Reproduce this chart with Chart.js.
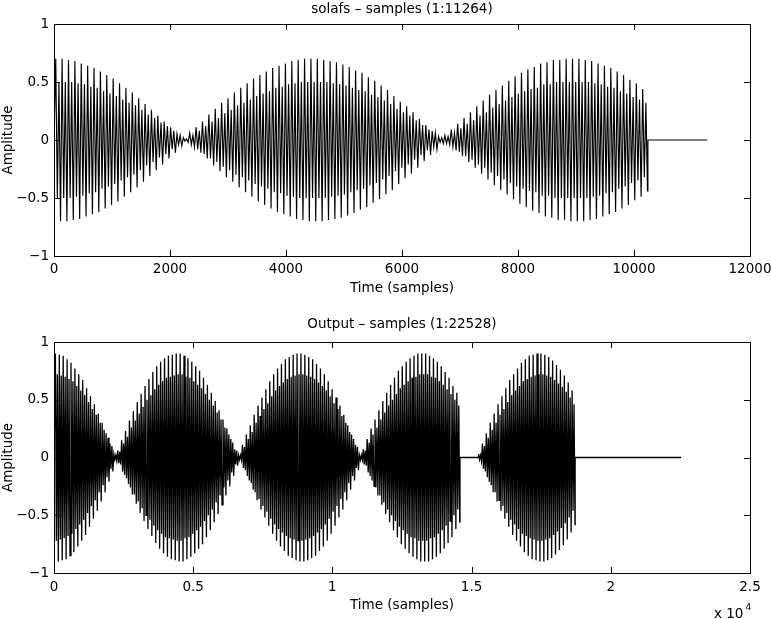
<!DOCTYPE html>
<html><head><meta charset="utf-8">
<script src="https://cdn.jsdelivr.net/npm/chart.js@4.4.1/dist/chart.umd.min.js"></script>
<style>
html,body{margin:0;padding:0;background:#fff;}
#wrap{position:relative;width:771px;height:619px;background:#fff;}
#c1{position:absolute;left:0;top:0;}
#c2{position:absolute;left:0;top:310px;}
</style></head><body>
<div id="wrap"><canvas id="c1" width="771" height="310"></canvas><canvas id="c2" width="771" height="309"></canvas></div>
<script>
// ---------- tick labels ----------
const yTickLabels = ['\u22121', '\u22120.5', '0', '0.5', '1'];
const topXTickLabels = ['0', '2000', '4000', '6000', '8000', '10000', '12000'];
const outXTickLabels = ['0', '0.5', '1', '1.5', '2', '2.5'];

// ---------- top signal (solafs input), one entry per pitch cycle ----------
const topCycleLength = 110;
const topCycleStarts = [30,140,250,360,470,580,690,800,910,1020,
1130,1240,1350,1460,1570,1680,1790,1900,2010,2120,
2230,2340,2450,2560,2670,2780,2890,3000,3110,3220,
3330,3440,3550,3660,3770,3880,3990,4100,4210,4320,
4430,4540,4650,4760,4870,4980,5090,5200,5310,5420,
5530,5640,5750,5860,5970,6080,6190,6300,6410,6520,
6630,6740,6850,6960,7070,7180,7290,7400,7510,7620,
7730,7840,7950,8060,8170,8280,8390,8500,8610,8720,
8830,8940,9050,9160,9270,9380,9490,9600,9710,9820,
9930,10040,10150];
const topMainPeaks = [0.70,0.70,0.69,0.68,0.66,0.64,0.62,0.59,0.56,0.53,
0.49,0.45,0.41,0.36,0.31,0.26,0.21,0.16,0.11,0.05,
0.02,0.06,0.11,0.16,0.22,0.27,0.32,0.36,0.41,0.45,
0.49,0.53,0.56,0.59,0.62,0.64,0.66,0.68,0.69,0.70,
0.70,0.70,0.69,0.68,0.67,0.65,0.63,0.60,0.58,0.54,
0.51,0.47,0.43,0.38,0.33,0.29,0.24,0.18,0.13,0.08,
0.03,0.04,0.09,0.14,0.19,0.24,0.29,0.34,0.39,0.43,
0.47,0.51,0.55,0.58,0.61,0.63,0.66,0.67,0.69,0.69,
0.70,0.70,0.70,0.69,0.68,0.66,0.64,0.62,0.59,0.56,
0.52,0.49,0.44];
const topSecondPeaks = [0.50,0.50,0.50,0.49,0.48,0.46,0.45,0.42,0.40,0.38,
0.35,0.32,0.30,0.26,0.22,0.19,0.15,0.12,0.08,0.04,
0.01,0.04,0.08,0.12,0.16,0.19,0.23,0.26,0.30,0.32,
0.35,0.38,0.40,0.42,0.45,0.46,0.48,0.49,0.50,0.50,
0.50,0.50,0.50,0.49,0.48,0.47,0.45,0.43,0.42,0.39,
0.37,0.34,0.31,0.27,0.24,0.21,0.17,0.13,0.09,0.06,
0.02,0.03,0.06,0.10,0.14,0.17,0.21,0.24,0.28,0.31,
0.34,0.37,0.40,0.42,0.44,0.45,0.48,0.48,0.50,0.50,
0.50,0.50,0.50,0.50,0.49,0.48,0.46,0.45,0.42,0.40,
0.37,0.35,0.32];
const topLeadX = [1];
const topSilenceX = [10240, 11264];

// ---------- bottom signal (output), one entry per pitch cycle ----------
const outCycleLength = 140;
const outStartsA = [50,190,330,470,610,750,890,1030,1170,1310,
1450,1590,1730,1870,2010,2150,2290,2430,2570,2710,
2850,2990,3130,3270,3410,3550,3690,3830,3970,4110,
4250,4390,4530,4670,4810,4950,5090,5230,5370,5510,
5650,5790,5930,6070,6210,6350,6490,6630,6770,6910,
7050,7190,7330,7470,7610,7750,7890,8030,8170,8310,
8450,8590,8730,8870,9010,9150,9290,9430,9570,9710,
9850,9990,10130,10270,10410,10550,10690,10830,10970,11110,
11250,11390,11530,11670,11810,11950,12090,12230,12370,12510,
12650,12790,12930,13070,13210,13350,13490,13630,13770,13910,
14050,14190,14330,14470];
const outMainA = [0.90,0.89,0.88,0.85,0.82,0.77,0.72,0.67,0.60,0.53,
0.46,0.38,0.30,0.21,0.12,0.03,0.06,0.15,0.23,0.32,
0.40,0.48,0.55,0.62,0.68,0.74,0.79,0.83,0.86,0.88,
0.89,0.90,0.90,0.88,0.86,0.83,0.79,0.75,0.69,0.63,
0.56,0.49,0.41,0.33,0.25,0.16,0.07,0.02,0.11,0.20,
0.28,0.37,0.45,0.52,0.59,0.66,0.72,0.77,0.81,0.85,
0.87,0.89,0.90,0.90,0.89,0.87,0.85,0.81,0.77,0.72,
0.66,0.59,0.52,0.45,0.37,0.28,0.20,0.11,0.02,0.07,
0.16,0.25,0.33,0.41,0.49,0.56,0.63,0.69,0.75,0.79,
0.83,0.86,0.88,0.90,0.90,0.90,0.88,0.86,0.83,0.79,
0.74,0.69,0.62,0.56];
const outSecondA = [0.72,0.71,0.70,0.68,0.66,0.62,0.58,0.54,0.48,0.42,
0.37,0.30,0.24,0.17,0.10,0.02,0.05,0.12,0.18,0.26,
0.32,0.38,0.44,0.50,0.54,0.59,0.63,0.66,0.69,0.70,
0.71,0.72,0.72,0.70,0.69,0.66,0.63,0.60,0.55,0.50,
0.45,0.39,0.33,0.26,0.20,0.13,0.06,0.02,0.09,0.16,
0.22,0.30,0.36,0.42,0.47,0.53,0.58,0.62,0.65,0.68,
0.70,0.71,0.72,0.72,0.71,0.70,0.68,0.65,0.62,0.58,
0.53,0.47,0.42,0.36,0.30,0.22,0.16,0.09,0.02,0.06,
0.13,0.20,0.26,0.33,0.39,0.45,0.50,0.55,0.60,0.63,
0.66,0.69,0.70,0.72,0.72,0.72,0.70,0.69,0.66,0.63,
0.59,0.55,0.50,0.45];
const outStartsB = [15250,15390,15530,15670,15810,15950,16090,16230,16370,16510,
16650,16790,16930,17070,17210,17350,17490,17630,17770,17910,
18050,18190,18330,18470,18610];
const outMainB = [0.03,0.12,0.21,0.30,0.38,0.46,0.53,0.60,0.67,0.72,
0.77,0.82,0.85,0.88,0.89,0.90,0.90,0.89,0.87,0.84,
0.80,0.76,0.71,0.65,0.58];
const outSecondB = [0.02,0.10,0.17,0.24,0.30,0.37,0.42,0.48,0.54,0.58,
0.62,0.66,0.68,0.70,0.71,0.72,0.72,0.71,0.70,0.67,
0.64,0.61,0.57,0.52,0.46];
const outLeadX = [1];
const outGapX = [14583, 15240];
const outSilenceX = [18720, 22528];

// ---------- build line points from the arrays ----------
function cyclePoints(starts, main, second, cycle) {
  const q = cycle / 4, pts = [];
  for (let i = 0; i < starts.length; i++) {
    const s = starts[i];
    pts.push({x: s, y: main[i]}, {x: s + q, y: -second[i]},
             {x: s + 2 * q, y: second[i]}, {x: s + 3 * q, y: -main[i]});
  }
  return pts;
}
const zeros = xs => xs.map(x => ({x, y: 0}));

const topData = [...zeros(topLeadX),
  ...cyclePoints(topCycleStarts, topMainPeaks, topSecondPeaks, topCycleLength),
  ...zeros(topSilenceX)];
const outData = [...zeros(outLeadX),
  ...cyclePoints(outStartsA, outMainA, outSecondA, outCycleLength),
  ...zeros(outGapX),
  ...cyclePoints(outStartsB, outMainB, outSecondB, outCycleLength),
  ...zeros(outSilenceX)];

// ---------- drawing ----------
const FONT = '"DejaVu Sans", "Liberation Sans", Arial, sans-serif';
const FSIZE = 13.5;
Chart.defaults.font.family = FONT;
Chart.defaults.font.size = FSIZE;
Chart.defaults.color = '#000';

const framePlugin = {
  id: 'matlabFrame',
  afterDraw(chart, args, o) {
    const ctx = chart.ctx, a = chart.chartArea;
    const xs = chart.scales.x, ys = chart.scales.y;
    const L = Math.round(a.left), R = Math.round(a.right), T = Math.round(a.top), B = Math.round(a.bottom);
    ctx.save();
    ctx.strokeStyle = '#000';
    ctx.lineWidth = 1;
    ctx.strokeRect(L + 0.5, T + 0.5, R - L, B - T);
    ctx.beginPath();
    xs.ticks.forEach(t => {
      const px = Math.round(xs.getPixelForValue(t.value)) + 0.5;
      ctx.moveTo(px, B); ctx.lineTo(px, B - 6);
      ctx.moveTo(px, T); ctx.lineTo(px, T + 6);
    });
    ys.ticks.forEach(t => {
      const py = Math.round(ys.getPixelForValue(t.value)) + 0.5;
      ctx.moveTo(L, py); ctx.lineTo(L + 6, py);
      ctx.moveTo(R, py); ctx.lineTo(R - 6, py);
    });
    ctx.stroke();
    ctx.fillStyle = '#000';
    ctx.font = FSIZE + 'px ' + FONT;
    ctx.textAlign = 'center';
    ctx.textBaseline = 'middle';
    const cx = (a.left + a.right) / 2, cy = (a.top + a.bottom) / 2;
    ctx.fillText(o.title, cx, o.titleY);
    ctx.fillText(o.xLabel, cx, o.xLabelY);
    ctx.save();
    ctx.translate(o.yLabelX, cy);
    ctx.rotate(-Math.PI / 2);
    ctx.fillText(o.yLabel, 0, 0);
    ctx.restore();
    if (o.exponent) {
      ctx.textAlign = 'left';
      ctx.fillText(o.exponent.base, o.exponent.x, o.exponent.y);
      const w = ctx.measureText(o.exponent.base).width;
      ctx.font = '9px ' + FONT;
      ctx.fillText(o.exponent.power, o.exponent.x + w + 2, o.exponent.y - 6);
    }
    ctx.restore();
  }
};

function makeChart(id, data, cfg) {
  return new Chart(document.getElementById(id), {
    type: 'line',
    data: { datasets: [{ data, borderColor: '#000', borderWidth: cfg.lineWidth, pointRadius: 0,
                         fill: false, tension: 0 }] },
    options: {
      responsive: false, animation: false, devicePixelRatio: 1,
      parsing: false, normalized: true,
      layout: { padding: { left: 0, right: 21, top: cfg.padTop, bottom: 0 } },
      plugins: {
        legend: { display: false }, tooltip: { enabled: false }, title: { display: false },
        matlabFrame: cfg.frame
      },
      scales: {
        x: {
          type: 'linear', min: 0, max: cfg.xMax,
          grid: { display: false, drawTicks: false }, border: { display: false },
          ticks: { stepSize: cfg.xStep, padding: cfg.xPad, maxRotation: 0, autoSkip: false,
                   callback: (v, i) => cfg.xLabels[i] },
          afterFit: s => { s.height = cfg.xHeight; s.paddingLeft = 0; s.paddingRight = 0; }
        },
        y: {
          type: 'linear', min: -1, max: 1,
          grid: { display: false, drawTicks: false }, border: { display: false },
          ticks: { stepSize: 0.5, padding: 5, callback: (v, i) => yTickLabels[i] },
          afterFit: s => { s.width = 54; s.paddingTop = 0; s.paddingBottom = 0; }
        }
      }
    },
    plugins: [framePlugin]
  });
}

makeChart('c1', topData, {
  padTop: 24, xMax: 12000, xStep: 2000, xPad: 5, xHeight: 54, xLabels: topXTickLabels, lineWidth: 1.15,
  frame: { title: 'solafs \u2013 samples (1:11264)', titleY: 9, xLabel: 'Time (samples)', xLabelY: 288,
           yLabel: 'Amplitude', yLabelX: 8 }
});
makeChart('c2', outData, {
  padTop: 32, xMax: 25000, xStep: 5000, xPad: 6, xHeight: 46, xLabels: outXTickLabels, lineWidth: 1.3,
  frame: { title: 'Output \u2013 samples (1:22528)', titleY: 14, xLabel: 'Time (samples)', xLabelY: 295.5,
           yLabel: 'Amplitude', yLabelX: 8,
           exponent: { base: 'x 10', power: '4', x: 714, y: 304 } }
});
</script>
</body></html>
